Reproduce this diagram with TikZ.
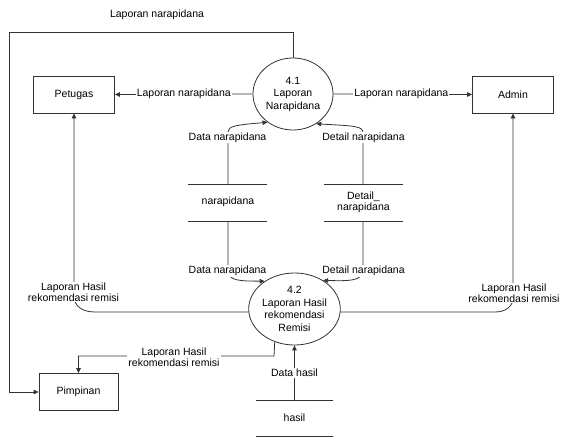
\documentclass[tikz,border=0pt]{standalone}
\usepackage{fontspec}
\setmainfont{Liberation Sans}
\usetikzlibrary{arrows.meta,shapes.geometric}
\begin{document}
\begin{tikzpicture}[x=1pt,y=-1pt,
  every node/.style={font=\fontsize{10.5}{12}\selectfont},
  ln/.style={draw=black!80, line width=0.8pt},
  arr/.style={ln, -{Triangle[length=5pt,width=4.5pt]}},
  ent/.style={ln, rectangle, minimum width=81pt, minimum height=37pt, inner sep=0pt},
  proc/.style={ln, ellipse, minimum width=80pt, minimum height=72pt, inner sep=0pt, align=center, font=\fontsize{10.5}{12.5}\selectfont},
  lbl/.style={fill=white, inner sep=1pt, align=center, font=\fontsize{10.5}{11}\selectfont},
  stl/.style={ln}]
\useasboundingbox (0,0) rectangle (565,439);
% entities
\node[ent] (petugas) at (74,94.5) {Petugas};
\node[ent] (admin) at (513,94.5) {Admin};
\node[ent, minimum width=79pt] (pimpinan) at (78.5,392) {Pimpinan};
% processes
\node[proc] (p41) at (293,94) {4.1\\Laporan\\Narapidana};
\node[proc, minimum width=78pt] (p42) at (294.5,309) {4.2\\Laporan Hasil\\rekomendasi\\Remisi};
% stores
\coordinate (s1a) at (188,184); \coordinate (s1b) at (267,184);
\coordinate (s1c) at (188,221); \coordinate (s1d) at (267,221);
\draw[stl] (s1a) -- (s1b); \draw[stl] (s1c) -- (s1d);
\node (s1) at (228,202) {narapidana};
\coordinate (s2a) at (324,184); \coordinate (s2b) at (403,184);
\coordinate (s2c) at (324,221); \coordinate (s2d) at (403,221);
\draw[stl] (s2a) -- (s2b); \draw[stl] (s2c) -- (s2d);
\node[align=center, font=\fontsize{10.5}{11}\selectfont] (s2) at (363.5,202.5) {Detail\_\\narapidana};
\coordinate (s3a) at (256,400); \coordinate (s3b) at (333,400);
\coordinate (s3c) at (256,436); \coordinate (s3d) at (333,436);
\draw[stl] (s3a) -- (s3b); \draw[stl] (s3c) -- (s3d);
\node (s3) at (294.5,418) {hasil};
% top loop
\coordinate (tl) at (9,32);
\coordinate (tr) at (293,32);
\coordinate (bl) at (9,392);
\draw[arr] (p41.north) -- (tr) -- (tl) -- (bl) -- (pimpinan.west);
\node (t1) at (157,15) {Laporan narapidana};
% 4.1 to Petugas and Admin
\draw[arr] (p41.west) -- (petugas.east) node[lbl, pos=0.5] (l1) {Laporan narapidana};
\draw[arr] (p41.east) -- (admin.west) node[lbl, pos=0.49] (l2) {Laporan narapidana};
% stores to 4.1
\coordinate (u1) at (228,184);
\coordinate (u2) at (363,184);
\draw[arr] (u1) -- (228,132) .. controls (228,126) and (236,125) .. (p41.-132);
\node[lbl] (l3) at (227.5,137.5) {Data narapidana};
\draw[arr] (u2) -- (363,133) .. controls (363,126) and (355,126) .. (p41.-52);
\node[lbl] (l4) at (363.5,137.5) {Detail narapidana};
% stores to 4.2
\coordinate (d1) at (228,221);
\coordinate (d2) at (363,221);
\draw[arr] (d1) -- (228,272) .. controls (230,281) and (240,281) .. (p42.137);
\node[lbl] (l5) at (227.5,271) {Data narapidana};
\draw[arr] (d2) -- (363,272) .. controls (360,281) and (350,281) .. (p42.45);
\node[lbl] (l6) at (363.5,271) {Detail narapidana};
% 4.2 to Petugas
\draw[arr] (p42.west |- 0,312) -- (95,312) .. controls (82,312) and (74,306) .. (74,296) -- (petugas.south);
\node[lbl] (l7) at (73.5,292) {Laporan Hasil\\rekomendasi remisi};
% 4.2 to Admin
\draw[arr] (p42.east |- 0,312) -- (495,312) .. controls (506,312) and (513,306) .. (513,298) -- (admin.south);
\node[lbl] (l8) at (514,293) {Laporan Hasil\\rekomendasi remisi};
% 4.2 to Pimpinan
\coordinate (pc) at (274,356);
\draw[arr] (p42.-121) -- (pc) -- (pimpinan.north |- pc) -- (pimpinan.north);
\node[lbl] (l9) at (174,357) {Laporan Hasil\\rekomendasi remisi};
% hasil to 4.2
\coordinate (h1) at (294.5,400);
\draw[arr] (h1) -- (p42.south);
\node[lbl] (l10) at (294.5,373) {Data hasil};
\end{tikzpicture}
\end{document}
